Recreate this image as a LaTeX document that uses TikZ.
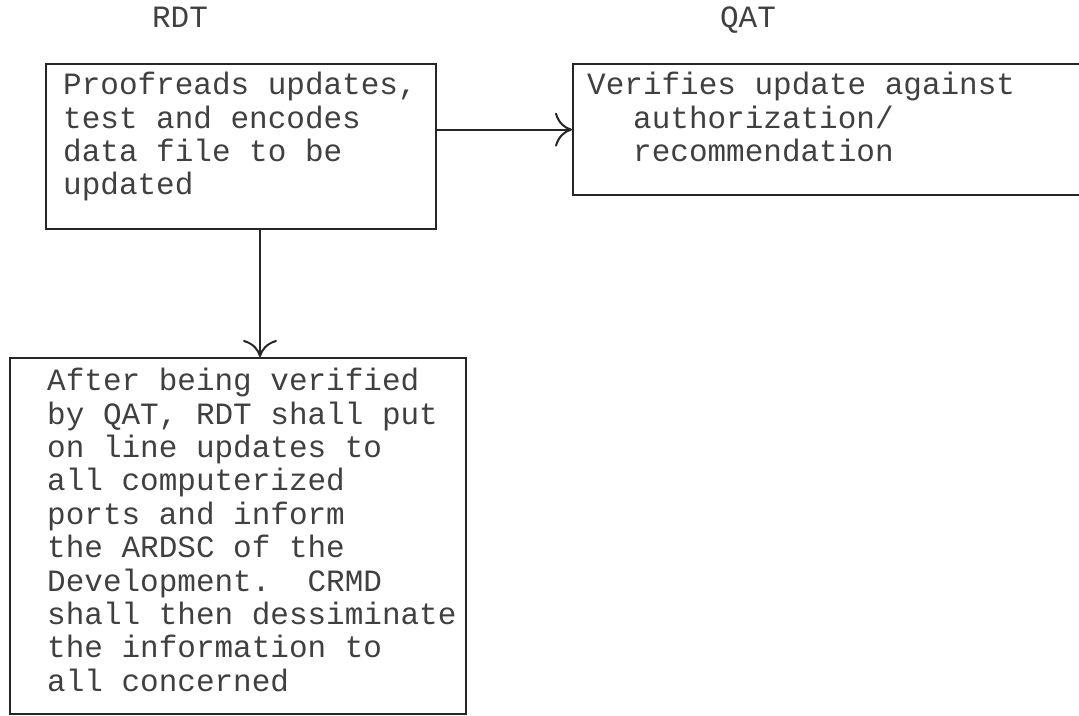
\documentclass[tikz,border=0pt]{standalone}
\usepackage{fontspec}
\setmonofont{Liberation Mono}
\usetikzlibrary{arrows.meta,calc}
\begin{document}
\begin{tikzpicture}[x=1pt,y=-1pt,
  ink/.style={draw=black!85, line width=2.3pt},
  box/.style={ink, rectangle, inner sep=0pt},
  txt/.style={font=\ttfamily\fontsize{31}{33.4}\selectfont, text=black!75, inner sep=0pt, align=left, anchor=north west},
  head/.style={font=\ttfamily\fontsize{31}{33.4}\selectfont, text=black!75, inner sep=0pt, anchor=base},
  arr/.style={ink, -{To[length=17pt,width=34pt,line width=2pt]}}]
\useasboundingbox (0,0) rectangle (1079,715);
\node[head] (h1) at (180,27) {RDT};
\node[head] (h2) at (748,27) {QAT};
\node[box, minimum width=390pt, minimum height=165pt, anchor=north west] (b1) at (45,63) {};
\node[box, minimum width=520pt, minimum height=131pt, anchor=north west] (b2) at (572,63) {};
\node[box, minimum width=456pt, minimum height=356pt, anchor=north west] (b3) at (9,357) {};
\node[txt] (t1) at (63,72) {Proofreads updates,\\test and encodes\\data file to be\\updated};
\node[txt] (t2) at (587,72) {Verifies update against\\\hspace*{46pt}authorization/\\\hspace*{46pt}recommendation};
\node[txt] (t3) at (47,368) {After being verified\\by QAT, RDT shall put\\on line updates to\\all computerized\\ports and inform\\the ARDSC of the\\Development.\ \ CRMD\\shall then dessiminate\\the information to\\all concerned};
\coordinate (ax) at (260,0);
\draw[arr] (b1.east |- b2.west) -- (b2.west);
\draw[arr] (b1.south -| ax) -- (b3.north -| ax);
\end{tikzpicture}
\end{document}
